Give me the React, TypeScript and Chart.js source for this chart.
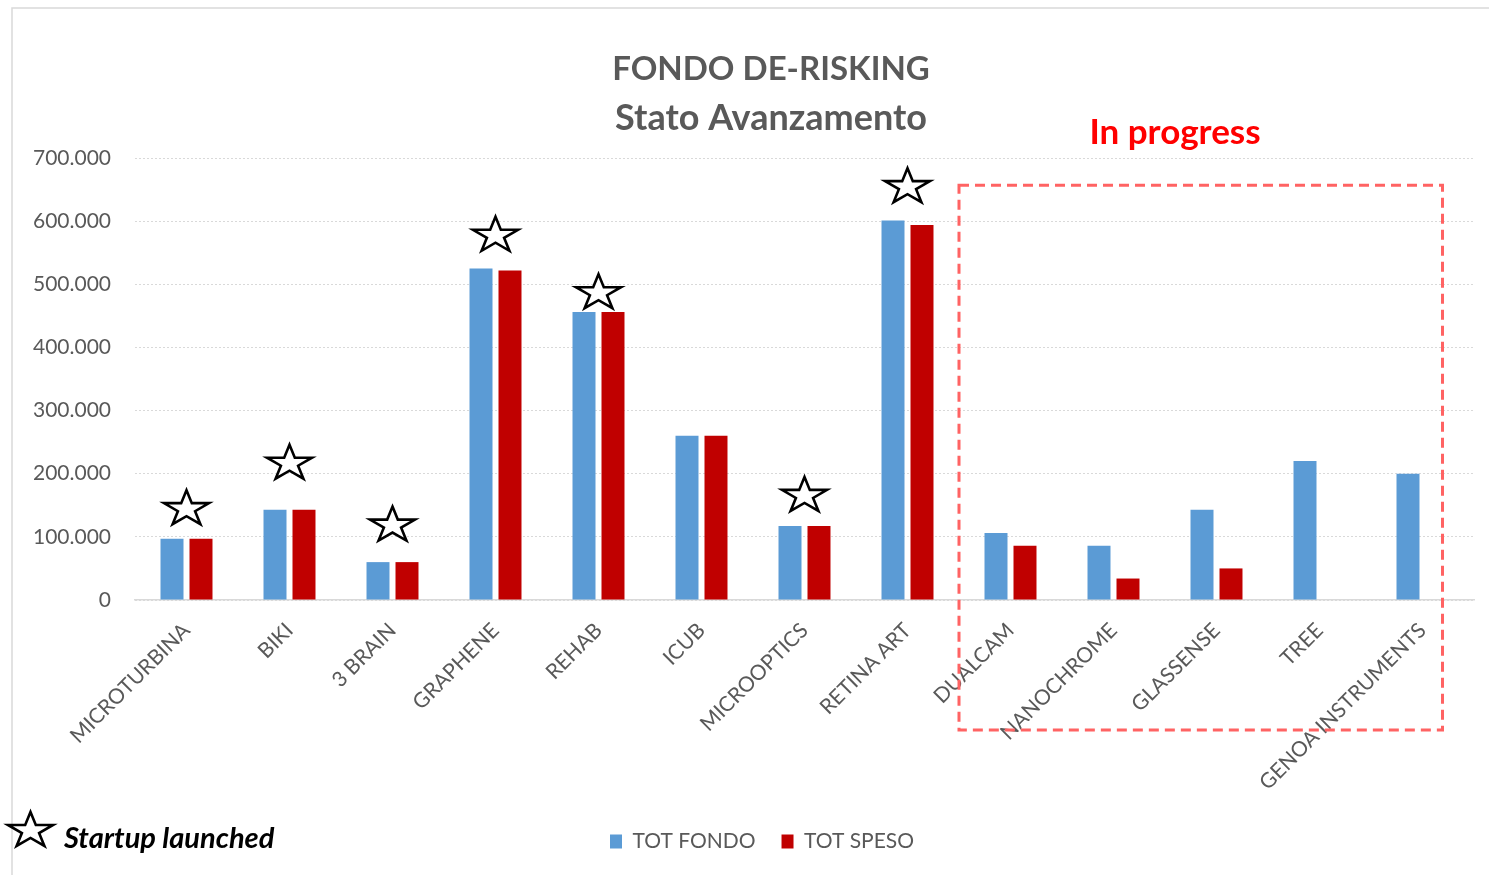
import React, { useEffect, useRef } from 'react';
import { Chart, registerables } from 'chart.js';

Chart.register(...registerables);

const categories = [
  'MICROTURBINA', 'BIKI', '3 BRAIN', 'GRAPHENE', 'REHAB', 'ICUB', 'MICROOPTICS',
  'RETINA ART', 'DUALCAM', 'NANOCHROME', 'GLASSENSE', 'TREE', 'GENOA INSTRUMENTS',
];
const totFondo = [97000, 143000, 60000, 525000, 456000, 260000, 117000, 601000, 106000, 86000, 143000, 220000, 200000];
const totSpeso = [97000, 143000, 60000, 522000, 456000, 260000, 117000, 594000, 86000, 34000, 50000, 0, 0];
const seriesNames = ['TOT FONDO', 'TOT SPESO'];
const titleLines = ['FONDO DE-RISKING', 'Stato Avanzamento'];

// startups marked with a star, and the level (in value units) where each star sits
const launched = ['MICROTURBINA', 'BIKI', '3 BRAIN', 'GRAPHENE', 'REHAB', 'MICROOPTICS', 'RETINA ART'];
const starLevels = [147000, 219000, 121000, 580000, 489000, 168000, 657000];
const inProgress = ['DUALCAM', 'NANOCHROME', 'GLASSENSE', 'TREE', 'GENOA INSTRUMENTS'];
const inProgressLabel = 'In progress';
const starLegendLabel = 'Startup launched';
const yMax = 700000;
const yStep = 100000;

const FONT = 'Lato, "Open Sans", sans-serif';
const GRAY = '#595959';
const BLUE = '#5B9BD5';
const RED = '#C00000';

function fmt(v: number): string {
  return String(Math.round(v)).replace(/\B(?=(\d{3})+(?!\d))/g, '.');
}

function drawStar(ctx: CanvasRenderingContext2D, cx: number, cy: number, w: number, h: number) {
  const sx = w / 1.902;
  const sy = h / 1.809;
  const top = cy - h / 2;
  ctx.beginPath();
  for (let i = 0; i < 10; i++) {
    const a = -Math.PI / 2 + (i * Math.PI) / 5;
    const r = i % 2 === 0 ? 1 : 0.382;
    const px = cx + Math.cos(a) * r * sx;
    const py = top + (Math.sin(a) * r + 1) * sy;
    if (i === 0) ctx.moveTo(px, py);
    else ctx.lineTo(px, py);
  }
  ctx.closePath();
  ctx.fillStyle = '#FFFFFF';
  ctx.fill();
  ctx.lineWidth = 2.6;
  ctx.lineJoin = 'miter';
  ctx.strokeStyle = '#000000';
  ctx.stroke();
}

export default function App() {
  const ref = useRef<HTMLCanvasElement>(null);

  useEffect(() => {
    if (!ref.current) return;

    const annotations = {
      id: 'annotations',
      afterLayout(chart: any) {
        const lg = chart.legend;
        if (lg) lg.left += 38;
      },
      afterDraw(chart: any) {
        const { ctx } = chart;
        const x = chart.scales.x;
        const y = chart.scales.y;
        ctx.save();

        // chart frame
        ctx.strokeStyle = '#D9D9D9';
        ctx.lineWidth = 1.5;
        ctx.beginPath();
        ctx.moveTo(12, 900);
        ctx.lineTo(12, 8);
        ctx.lineTo(1500, 8);
        ctx.stroke();

        // title
        ctx.fillStyle = GRAY;
        ctx.textAlign = 'center';
        ctx.textBaseline = 'alphabetic';
        ctx.font = `bold 33px ${FONT}`;
        ctx.fillText(titleLines[0], 771, 80);
        ctx.font = `bold 36px ${FONT}`;
        ctx.fillText(titleLines[1], 771, 130);

        // stars
        launched.forEach((name, i) => {
          const cx = x.getPixelForValue(categories.indexOf(name));
          const cy = y.getPixelForValue(starLevels[i]);
          drawStar(ctx, cx, cy, 45, 34);
        });

        // in-progress box
        const first = categories.indexOf(inProgress[0]);
        const last = categories.indexOf(inProgress[inProgress.length - 1]);
        const step = x.getPixelForValue(1) - x.getPixelForValue(0);
        const left = x.getPixelForValue(first) - step / 2;
        const right = x.getPixelForValue(last) + 20;
        const top = y.getPixelForValue(657000);
        const bottom = 730;
        ctx.setLineDash([10, 6]);
        ctx.lineWidth = 3;
        ctx.strokeStyle = '#FF6363';
        ctx.strokeRect(left, top, right - left, bottom - top);
        ctx.setLineDash([]);

        ctx.fillStyle = '#FF0000';
        ctx.font = `bold 35px ${FONT}`;
        ctx.textAlign = 'center';
        ctx.fillText(inProgressLabel, 1175, 144);

        // star legend
        drawStar(ctx, 30.5, 829, 45, 34);
        ctx.fillStyle = '#000000';
        ctx.textAlign = 'left';
        ctx.font = `italic bold 29px ${FONT}`;
        ctx.fillText(starLegendLabel, 64, 848);

        ctx.restore();
      },
    };

    const chart = new Chart(ref.current, {
      type: 'bar',
      data: {
        labels: categories,
        datasets: [
          {
            label: seriesNames[0],
            data: totFondo,
            backgroundColor: BLUE,
            borderWidth: 0,
            categoryPercentage: 0.563,
            barPercentage: 0.793,
          },
          {
            label: seriesNames[1],
            data: totSpeso,
            backgroundColor: RED,
            borderWidth: 0,
            categoryPercentage: 0.563,
            barPercentage: 0.793,
          },
        ],
      },
      options: {
        responsive: false,
        animation: false,
        devicePixelRatio: 1,
        layout: { padding: { left: 12, right: 15, top: 158, bottom: 13 } },
        plugins: {
          title: { display: false },
          tooltip: { enabled: false },
          legend: {
            display: true,
            position: 'bottom',
            labels: {
              boxWidth: 12,
              boxHeight: 14,
              padding: 26,
              color: GRAY,
              font: { family: FONT, size: 21 },
            },
          },
        },
        scales: {
          x: {
            grid: { display: false, drawTicks: false },
            border: { display: true, color: '#D9D9D9', width: 1.5 },
            ticks: {
              autoSkip: false,
              minRotation: 45,
              maxRotation: 45,
              padding: 18,
              color: GRAY,
              font: { family: FONT, size: 21 },
            },
            afterFit(scale: any) {
              scale.height = 205;
            },
          },
          y: {
            min: 0,
            max: yMax,
            grid: { color: '#D9D9D9', lineWidth: 1, drawTicks: false },
            border: { display: false, dash: [2, 2] },
            ticks: {
              stepSize: yStep,
              padding: 24,
              color: GRAY,
              font: { family: FONT, size: 21 },
              callback: (v: any) => fmt(Number(v)),
            },
            afterFit(scale: any) {
              scale.width = 123;
            },
          },
        },
      },
      plugins: [annotations],
    });

    return () => chart.destroy();
  }, []);

  return (
    <div style={{ position: 'fixed', left: 0, top: 0, width: 1489, height: 875, background: '#FFFFFF' }}>
      <canvas ref={ref} width={1489} height={875} style={{ display: 'block', width: 1489, height: 875 }} />
    </div>
  );
}
